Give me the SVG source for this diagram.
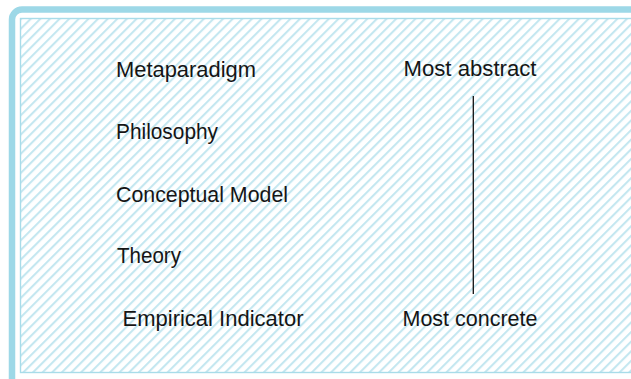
<svg xmlns="http://www.w3.org/2000/svg" width="631" height="379" viewBox="0 0 631 379">
  <defs>
    <pattern id="hatch" width="6.8" height="6.8" patternUnits="userSpaceOnUse" patternTransform="rotate(45)">
      <rect x="0" y="0" width="2.1" height="6.8" fill="#c4e7f0"/>
    </pattern>
  </defs>
  <style>
    .lbl { font-family: "Liberation Sans", Arial, sans-serif; font-size: 22.5px; fill: #151515; }
  </style>
  <rect x="0" y="0" width="631" height="379" fill="#ffffff"/>
  <g id="frame">
    <rect x="12" y="9.5" width="640" height="380" rx="10" ry="10" fill="#ffffff" stroke="#9dd8e7" stroke-width="6.5"/>
    <rect x="20.5" y="18.5" width="630" height="354" fill="url(#hatch)" stroke="#a8dce9" stroke-width="1.4"/>
  </g>
  <g id="connectors">
    <line x1="473.3" y1="96" x2="473.3" y2="294" stroke="#111111" stroke-width="1.3"/>
  </g>
  <g id="metaparadigm"><text class="lbl" x="116" y="77" textLength="140" lengthAdjust="spacingAndGlyphs">Metaparadigm</text></g>
  <g id="philosophy"><text class="lbl" x="116" y="138.5" textLength="102" lengthAdjust="spacingAndGlyphs">Philosophy</text></g>
  <g id="conceptual-model"><text class="lbl" x="116" y="201.5" textLength="172" lengthAdjust="spacingAndGlyphs">Conceptual Model</text></g>
  <g id="theory"><text class="lbl" x="117" y="262.5" textLength="64" lengthAdjust="spacingAndGlyphs">Theory</text></g>
  <g id="empirical-indicator"><text class="lbl" x="122.5" y="325.7" textLength="181" lengthAdjust="spacingAndGlyphs">Empirical Indicator</text></g>
  <g id="most-abstract"><text class="lbl" x="403.5" y="76" textLength="133" lengthAdjust="spacingAndGlyphs">Most abstract</text></g>
  <g id="most-concrete"><text class="lbl" x="402.5" y="325.7" textLength="135" lengthAdjust="spacingAndGlyphs">Most concrete</text></g>
</svg>
